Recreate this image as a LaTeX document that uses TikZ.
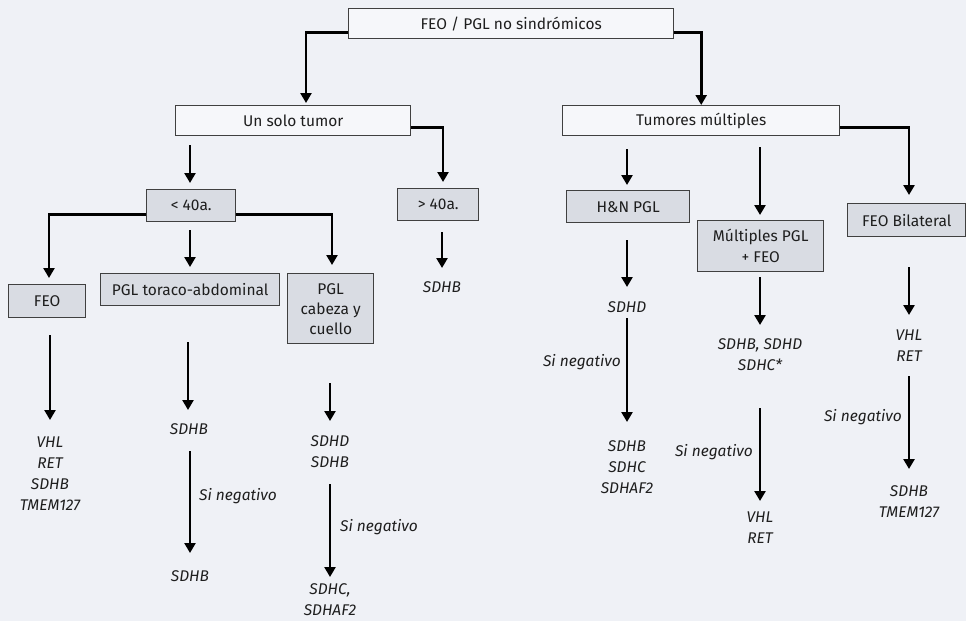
\documentclass[tikz,border=0pt]{standalone}
\usepackage{fontspec}
\setmainfont{Fira Sans}
\usetikzlibrary{arrows.meta}
\definecolor{bgc}{HTML}{EFF1F6}
\definecolor{boxlight}{HTML}{F6F7FA}
\definecolor{boxgrey}{HTML}{D9DCE3}
\definecolor{inkc}{HTML}{1E1E1E}
\tikzset{
  topbox/.style={draw=inkc!85, line width=1.4pt, fill=boxlight, text=inkc,
    font=\fontsize{15.5}{20}\selectfont, inner sep=0pt, anchor=north west},
  greybox/.style={draw=inkc!85, line width=1.4pt, fill=boxgrey, text=inkc,
    font=\fontsize{15.5}{20}\selectfont, inner sep=0pt, anchor=north west, align=center},
  gene/.style={text=inkc, font=\fontsize{15.5}{21}\selectfont\itshape, align=center, inner sep=0pt},
  neg/.style={text=inkc, font=\fontsize{15.5}{17}\selectfont\itshape, inner sep=0pt},
  conn/.style={draw=black, line width=2.8pt, -{Triangle[length=10pt,width=11pt]}},
  arr/.style={draw=black, line width=2.8pt, -{Triangle[length=10pt,width=11pt]}}
}
\newcommand{\bx}[6]{% name, style, x0, y0, x1, y1
  \node[#2, minimum width=#5-#3, minimum height=#6-#4] (#1) at (#3,#4)}
\begin{document}
\begin{tikzpicture}[x=1pt,y=-1pt]
\fill[bgc] (0,0) rectangle (966,621);
\useasboundingbox (0,0) rectangle (966,621);

% boxes
\bx{top}{topbox}{348}{8}{673}{38} {FEO / PGL no sindrómicos};
\bx{solo}{topbox}{175}{105}{410}{135} {Un solo tumor};
\bx{multi}{topbox}{562}{105}{839}{135} {Tumores múltiples};
\bx{lt}{greybox}{146}{189}{235}{221} {< 40a.};
\bx{gt}{greybox}{397}{188}{478}{220} {> 40a.};
\bx{feo}{greybox}{8}{284}{85}{317} {FEO};
\bx{tor}{greybox}{100}{273}{279}{305} {PGL toraco-abdominal};
\bx{cab}{greybox}{287}{273}{373}{343} {PGL\\cabeza y\\cuello};
\bx{hn}{greybox}{566}{190}{689}{222} {H\&N PGL};
\bx{mul}{greybox}{697}{220}{823}{271} {Múltiples PGL\\[1pt]+ FEO};
\bx{bil}{greybox}{847}{203}{965}{236} {FEO Bilateral};

% gene lists
\node[gene] (g1) at (50,474) {VHL\\RET\\SDHB\\TMEM127};
\node[gene] (g2) at (189,429) {SDHB};
\node[gene] (g3) at (190,576) {SDHB};
\node[gene] (g4) at (330,452) {SDHD\\SDHB};
\node[gene] (g5) at (330,600) {SDHC,\\SDHAF2};
\node[gene] (g6) at (442,287) {SDHB};
\node[gene] (g7) at (627,307) {SDHD};
\node[gene] (g8) at (627,467) {SDHB\\SDHC\\SDHAF2};
\node[gene] (g9) at (760,355) {SDHB, SDHD\\SDHC*};
\node[gene] (g10) at (760,528) {VHL\\RET};
\node[gene] (g11) at (909,346) {VHL\\RET};
\node[gene] (g12) at (909,502) {SDHB\\TMEM127};

% "Si negativo" labels
\node[neg, anchor=west] (n1) at (199,496) {Si negativo};
\node[neg, anchor=west] (n2) at (340,527) {Si negativo};
\node[neg, anchor=east] (n3) at (621,362) {Si negativo};
\node[neg, anchor=east] (n4) at (753,452) {Si negativo};
\node[neg, anchor=east] (n5) at (902,417) {Si negativo};

% free arrow ends
\coordinate (a1) at (306,103);
\coordinate (a2) at (443,182);
\coordinate (a3) at (49,278);
\coordinate (a4) at (332,265);
\coordinate (a5) at (909,195);

% elbow connectors
\draw[conn] ([yshift=-9pt]top.west) -| (a1);
\draw[conn] ([yshift=-9pt]top.east) -| (multi.north);
\draw[conn] ([yshift=-7pt]solo.east) -| (a2);
\draw[conn] ([yshift=-9pt]lt.west) -| (a3);
\draw[conn] ([yshift=-9pt]lt.east) -| (a4);
\draw[conn] ([yshift=-7pt]multi.east) -| (a5);

% straight arrows
\draw[arr] (190,145) -- (190,183);
\draw[arr] (190,230) -- (190,267);
\draw[arr] (442,232) -- (442,268);
\draw[arr] (50,335) -- (50,420);
\draw[arr] (188,342) -- (188,410);
\draw[arr] (190,451) -- (190,553);
\draw[arr] (330,383) -- (330,421);
\draw[arr] (330,484) -- (330,577);
\draw[arr] (627,149) -- (627,185);
\draw[arr] (627,240) -- (627,287);
\draw[arr] (627,318) -- (627,422);
\draw[arr] (760,147) -- (760,215);
\draw[arr] (760,277) -- (760,325);
\draw[arr] (760,408) -- (760,501);
\draw[arr] (909,267) -- (909,315);
\draw[arr] (909,376) -- (909,469);
\end{tikzpicture}
\end{document}
